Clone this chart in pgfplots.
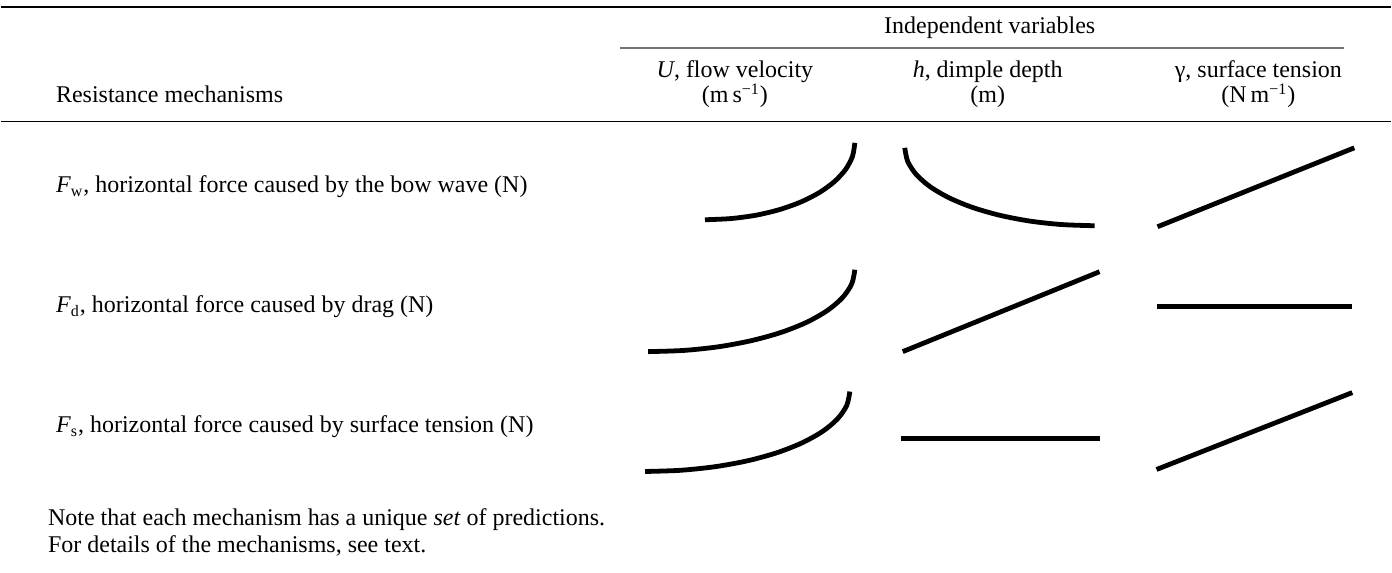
\documentclass[border=0pt]{standalone}
\usepackage{fontspec}
\setmainfont{Liberation Serif}
\usepackage{pgfplots}
\pgfplotsset{compat=1.18}
\begin{document}
\fontsize{12}{14}\selectfont
\begin{tikzpicture}
\begin{axis}[
  width=696pt, height=286.5pt, scale only axis,
  xmin=0, xmax=1392, ymin=0, ymax=573,
  hide axis, clip=false,
  cycle list={{black, solid, line width=2.4pt, no marks}},
]
\path (axis cs:0,0) rectangle (axis cs:1392,573);
% table rules
\addplot[black, line width=0.75pt] coordinates {(0,566) (1392,566)};
\addplot[black!55, line width=0.8pt] coordinates {(620,525) (1345,525)};
\addplot[black, line width=0.6pt] coordinates {(0,451) (1392,451)};
% Row 1: F_w
\addplot[black, line width=2.4pt, smooth] coordinates {(705,353) (731.0,354.2) (756.3,357.6) (780,363.3) (801.4,371.0) (819.9,380.5) (834.9,391.5) (846.0,403.7) (852.7,416.6) (855,430)};
\addplot[black, line width=2.4pt, smooth] coordinates {(905,425) (907.9,411.5) (916.5,398.3) (930.5,386) (949.5,374.9) (972.9,365.3) (1000,357.5) (1030,351.7) (1062.0,348.2) (1095,347)};
\addplot[black, line width=2.4pt] coordinates {(1158,346) (1355,425)};
% Row 2: F_d
\addplot[black, line width=2.4pt, smooth] coordinates {(648,221) (683.9,222.2) (718.8,225.9) (751.5,232.0) (781.1,240.2) (806.6,250.3) (827.3,262.0) (842.5,274.9) (851.9,288.8) (855,303)};
\addplot[black, line width=2.4pt] coordinates {(903,221) (1100,301)};
\addplot[black, line width=2.4pt] coordinates {(1157,266) (1353,266)};
% Row 3: F_s
\addplot[black, line width=2.4pt, smooth] coordinates {(645,101) (680.6,102.2) (715.1,105.8) (747.5,111.7) (776.8,119.7) (802.0,129.6) (822.5,141) (837.6,153.6) (846.9,167.1) (850,181)};
\addplot[black, line width=2.4pt] coordinates {(901,134) (1100,134)};
\addplot[black, line width=2.4pt] coordinates {(1157,103) (1353,180)};
% header text
\node[anchor=base, inner sep=0pt] at (axis cs:990,539) {Independent variables};
\node[anchor=base, inner sep=0pt] at (axis cs:735,495) {\textit{U}, flow velocity};
\node[anchor=base, inner sep=0pt] at (axis cs:735,470) {(m\,s\textsuperscript{−1})};
\node[anchor=base, inner sep=0pt] at (axis cs:988,495) {\textit{h}, dimple depth};
\node[anchor=base, inner sep=0pt] at (axis cs:988,470) {(m)};
\node[anchor=base, inner sep=0pt] at (axis cs:1259,495) {γ, surface tension};
\node[anchor=base, inner sep=0pt] at (axis cs:1259,470) {(N\,m\textsuperscript{−1})};
\node[anchor=base west, inner sep=0pt] at (axis cs:55,470) {Resistance mechanisms};
% row labels
\node[anchor=base west, inner sep=0pt] at (axis cs:55,380) {\textit{F}\textsubscript{w}, horizontal force caused by the bow wave (N)};
\node[anchor=base west, inner sep=0pt] at (axis cs:55,260) {\textit{F}\textsubscript{d}, horizontal force caused by drag (N)};
\node[anchor=base west, inner sep=0pt] at (axis cs:55,140) {\textit{F}\textsubscript{s}, horizontal force caused by surface tension (N)};
% note
\node[anchor=base west, inner sep=0pt] at (axis cs:47,47) {Note that each mechanism has a unique \textit{set} of predictions.};
\node[anchor=base west, inner sep=0pt] at (axis cs:47,20) {For details of the mechanisms, see text.};
\end{axis}
\end{tikzpicture}
\end{document}
